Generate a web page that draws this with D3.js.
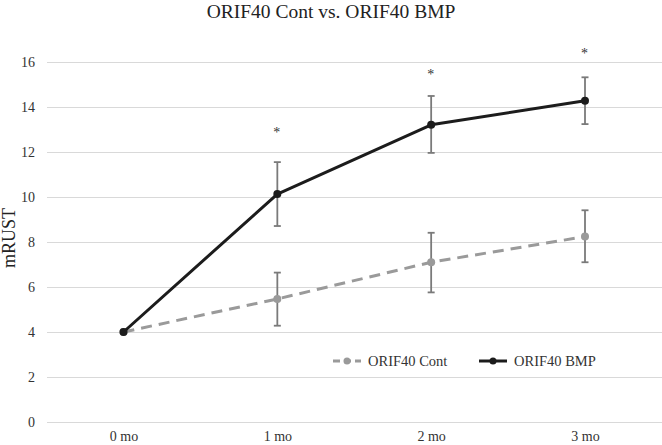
<!DOCTYPE html>
<html><head><meta charset="utf-8">
<script src="https://cdn.jsdelivr.net/npm/d3@7"></script>
<style>body{margin:0;background:#fff}svg{display:block}svg text{font-family:"Liberation Serif","Times New Roman","DejaVu Serif",serif !important}</style>
</head><body>
<script>
const categories = ["0 mo", "1 mo", "2 mo", "3 mo"];
const contValues = [4.0, 5.47, 7.10, 8.24];
const contErrLow = [4.0, 4.28, 5.76, 7.10];
const contErrHigh = [4.0, 6.64, 8.41, 9.41];
const bmpValues = [4.0, 10.13, 13.21, 14.28];
const bmpErrLow = [4.0, 8.71, 11.96, 13.24];
const bmpErrHigh = [4.0, 11.55, 14.49, 15.32];
const starPositions = [null, 13.0, 15.55, 16.5];
const yTicks = [0, 2, 4, 6, 8, 10, 12, 14, 16];
const seriesNames = ["ORIF40 Cont", "ORIF40 BMP"];

const FONT = "'Liberation Serif', 'Times New Roman', 'DejaVu Serif', serif";
const W = 662, H = 445;
const svg = d3.select("body").append("svg").attr("width", W).attr("height", H)
  .style("font-family", FONT);
const x = d3.scalePoint().domain(categories).range([123.5, 585]);
const y = d3.scaleLinear().domain([0, 16]).range([422, 62]);

svg.append("text").attr("x", 331).attr("y", 18).attr("text-anchor", "middle")
  .attr("font-size", 19.5).attr("fill", "#222").text("ORIF40 Cont vs. ORIF40 BMP");

const yAxis = svg.append("g").attr("transform", "translate(47,0)")
  .call(d3.axisLeft(y).tickValues(yTicks).tickSize(-615).tickPadding(12));
yAxis.attr("font-family", FONT);
yAxis.select(".domain").remove();
yAxis.selectAll(".tick line").attr("stroke", "#d9d9d9").attr("stroke-width", 1);
yAxis.selectAll(".tick text").attr("font-size", 14).attr("fill", "#333");

const xAxis = svg.append("g").attr("transform", "translate(0,422)")
  .call(d3.axisBottom(x).tickSize(0).tickPadding(9));
xAxis.attr("font-family", FONT);
xAxis.select(".domain").remove();
xAxis.selectAll(".tick text").attr("font-size", 14).attr("fill", "#333");

svg.append("text").attr("transform", "translate(15,238) rotate(-90)").attr("text-anchor", "middle")
  .attr("font-size", 18).attr("fill", "#222").text("mRUST");

const line = d3.line().x((d, i) => x(categories[i])).y(d => y(d));

function drawSeries(vals, lo, hi, color, dash) {
  svg.append("path").datum(vals).attr("d", line).attr("fill", "none")
    .attr("stroke", color).attr("stroke-width", 3).attr("stroke-dasharray", dash || null)
    .attr("stroke-linejoin", "round");
  const g = svg.append("g");
  vals.forEach((v, i) => {
    if (hi[i] === lo[i]) return;
    const cx = x(categories[i]);
    g.append("line").attr("x1", cx).attr("x2", cx).attr("y1", y(lo[i])).attr("y2", y(hi[i]))
      .attr("stroke", "#7a7a7a").attr("stroke-width", 1.8);
    [lo[i], hi[i]].forEach(e => g.append("line").attr("x1", cx - 3.5).attr("x2", cx + 3.5)
      .attr("y1", y(e)).attr("y2", y(e)).attr("stroke", "#7a7a7a").attr("stroke-width", 1.8));
  });
  svg.append("g").selectAll("circle").data(vals).join("circle")
    .attr("cx", (d, i) => x(categories[i])).attr("cy", d => y(d)).attr("r", 4).attr("fill", color);
}
drawSeries(contValues, contErrLow, contErrHigh, "#9a9a9a", "11,7");
drawSeries(bmpValues, bmpErrLow, bmpErrHigh, "#1c1c1c", null);

starPositions.forEach((s, i) => {
  if (s == null) return;
  svg.append("text").attr("x", x(categories[i]) - 0.5).attr("y", y(s) + 7).attr("text-anchor", "middle")
    .attr("font-size", 14).attr("fill", "#333").text("*");
});

// legend
const leg = [
  {name: seriesNames[0], color: "#9a9a9a", dash: "7,4", x0: 333},
  {name: seriesNames[1], color: "#1c1c1c", dash: null, x0: 479}
];
leg.forEach(l => {
  svg.append("line").attr("x1", l.x0).attr("x2", l.x0 + 28).attr("y1", 361).attr("y2", 361)
    .attr("stroke", l.color).attr("stroke-width", 3).attr("stroke-dasharray", l.dash);
  svg.append("circle").attr("cx", l.x0 + 14).attr("cy", 361).attr("r", 3.5).attr("fill", l.color);
  svg.append("text").attr("x", l.x0 + 35).attr("y", 366).attr("font-size", 14.5).attr("fill", "#333").text(l.name);
});
</script>
</body></html>
